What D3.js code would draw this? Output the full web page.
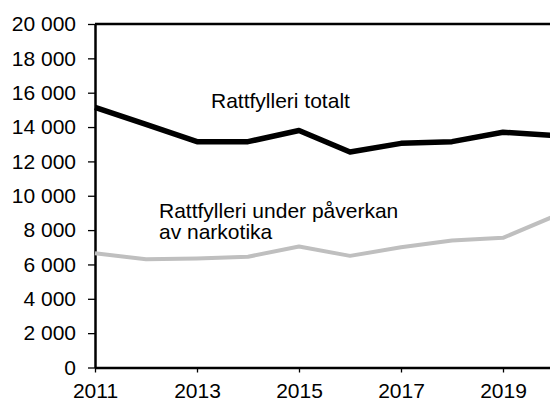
<!DOCTYPE html>
<html>
<head>
<meta charset="utf-8">
<script src="https://cdn.jsdelivr.net/npm/d3@7"></script>
<style>
  body { margin: 0; background: #fff; }
  svg { display: block; }
  text { font-family: "Liberation Sans", Arial, sans-serif; fill: #000; }
</style>
</head>
<body>
<div class="chart"></div>
<script>
// Rattfylleri, antal anmälda brott per år
const years = [2011, 2012, 2013, 2014, 2015, 2016, 2017, 2018, 2019, 2020];
const totalt = [15150, 14150, 13150, 13150, 13800, 12550, 13050, 13150, 13700, 13500];
const narkotika = [6650, 6300, 6350, 6450, 7050, 6500, 7000, 7400, 7550, 8800];
const yTicks = [0, 2000, 4000, 6000, 8000, 10000, 12000, 14000, 16000, 18000, 20000];
const xTicks = [2011, 2013, 2015, 2017, 2019];

const width = 550;
const height = 401;
const margin = {top: 24, left: 95, bottom: 34};
const plotRight = 554; // the frame runs a bit past the window edge

let svg = d3.select("div.chart")
    .append("svg")
    .attr("width", width)
    .attr("height", height);

let x = d3.scaleLinear().domain([2011, 2020]).range([margin.left, plotRight]);
let y = d3.scaleLinear().domain([0, 20000]).range([height - margin.bottom + 0.5, margin.top]);

const sv = d3.formatLocale({decimal: ",", thousands: "\u00a0", grouping: [3], currency: ["", " kr"]});
const fmt = sv.format(",d");

// y axis
let yAxis = svg.append("g")
    .attr("transform", `translate(${margin.left},0)`)
    .call(d3.axisLeft(y).tickValues(yTicks).tickFormat(fmt).tickSizeInner(7).tickSizeOuter(0).tickPadding(12));
yAxis.select(".domain").attr("stroke-width", 2.5);
yAxis.selectAll(".tick line").attr("stroke-width", 1.3);
yAxis.selectAll("text").style("font-size", "21px");

// x axis
let xAxis = svg.append("g")
    .attr("transform", `translate(0,${y(0)})`)
    .call(d3.axisBottom(x).tickValues(xTicks).tickFormat(d3.format("d")).tickSizeInner(5).tickSizeOuter(0).tickPadding(11));
xAxis.select(".domain").attr("stroke-width", 2.5);
xAxis.selectAll(".tick line").attr("stroke-width", 1.3);
xAxis.selectAll("text").style("font-size", "21px");

// top frame line
svg.append("line")
    .attr("x1", margin.left)
    .attr("x2", plotRight)
    .attr("y1", y(20000))
    .attr("y2", y(20000))
    .attr("stroke", "#000")
    .attr("stroke-width", 2.5);

let line = d3.line()
    .x((d, i) => x(years[i]))
    .y(d => y(d));

svg.append("path")
    .datum(narkotika)
    .attr("d", line)
    .attr("fill", "none")
    .attr("stroke", "#bfbfbf")
    .attr("stroke-width", 4)
    .attr("stroke-linejoin", "round");

svg.append("path")
    .datum(totalt)
    .attr("d", line)
    .attr("fill", "none")
    .attr("stroke", "#000")
    .attr("stroke-width", 5.5)
    .attr("stroke-linejoin", "round");

// series labels
svg.append("text")
    .attr("x", 211)
    .attr("y", 108)
    .style("font-size", "21px")
    .text("Rattfylleri totalt");

let lab = svg.append("text")
    .attr("x", 159)
    .attr("y", 218)
    .style("font-size", "21px");
lab.append("tspan").attr("x", 159).text("Rattfylleri under påverkan");
lab.append("tspan").attr("x", 159).attr("dy", 21).text("av narkotika");
</script>
</body>
</html>
